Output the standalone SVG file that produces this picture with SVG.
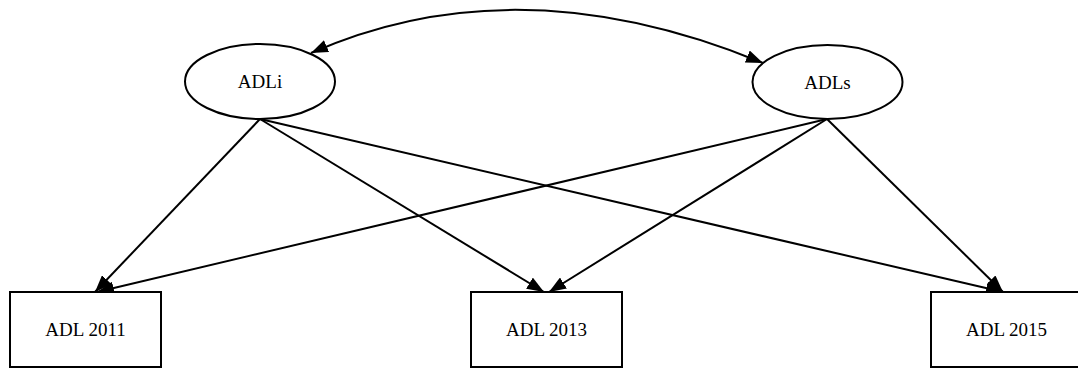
<svg xmlns="http://www.w3.org/2000/svg" width="1078" height="370" viewBox="0 0 1078 370">
<style>
.node{fill:#fff;stroke:#000;stroke-width:2}
.lbl{font-family:"Liberation Serif","Times New Roman",serif;font-size:19px;fill:#000;text-anchor:middle}
.edge{fill:none;stroke:#000;stroke-width:2}
</style>
<defs>
<marker id="ah" viewBox="0 0 17 13" refX="17" refY="6.5" markerWidth="17" markerHeight="13" markerUnits="userSpaceOnUse" orient="auto-start-reverse">
<path d="M0,0 L17,6.5 L0,13 Z" fill="#000"/>
</marker>
</defs>
<rect width="1078" height="370" fill="#fff"/>
<g id="connectors">
<path class="edge" d="M311,53 Q517,-38 763,63" marker-start="url(#ah)" marker-end="url(#ah)"/>
<line class="edge" x1="260" y1="119" x2="95" y2="292" marker-end="url(#ah)"/>
<line class="edge" x1="260" y1="119" x2="544" y2="292" marker-end="url(#ah)"/>
<line class="edge" x1="260" y1="119" x2="1003" y2="292" marker-end="url(#ah)"/>
<line class="edge" x1="827" y1="119" x2="97" y2="292" marker-end="url(#ah)"/>
<line class="edge" x1="827" y1="119" x2="549" y2="292" marker-end="url(#ah)"/>
<line class="edge" x1="827" y1="119" x2="1003" y2="292" marker-end="url(#ah)"/>
</g>
<g id="ADLi">
<ellipse class="node" cx="260" cy="81.5" rx="75" ry="37.5"/>
<text class="lbl" x="260" y="88">ADLi</text>
</g>
<g id="ADLs">
<ellipse class="node" cx="827.5" cy="82" rx="75" ry="37"/>
<text class="lbl" x="827.5" y="88.5">ADLs</text>
</g>
<g id="ADL2011">
<rect class="node" x="10" y="292" width="151" height="75"/>
<text class="lbl" x="85.5" y="336">ADL 2011</text>
</g>
<g id="ADL2013">
<rect class="node" x="471" y="292" width="151" height="75"/>
<text class="lbl" x="546.5" y="336">ADL 2013</text>
</g>
<g id="ADL2015">
<rect class="node" x="931" y="292" width="151" height="75"/>
<text class="lbl" x="1006.5" y="336">ADL 2015</text>
</g>
</svg>
